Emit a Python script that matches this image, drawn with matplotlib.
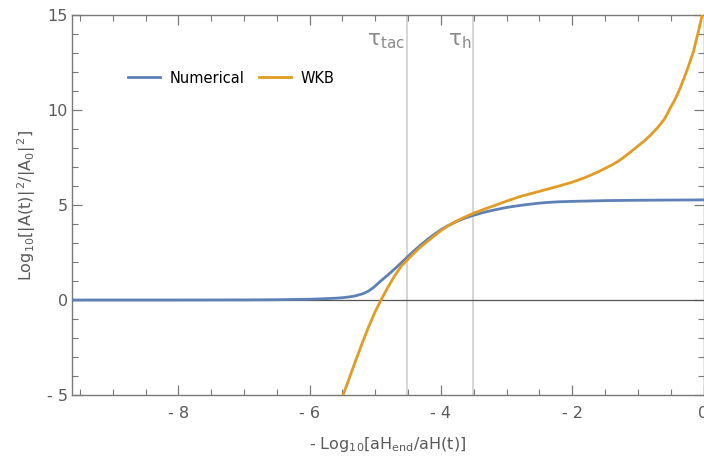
import matplotlib
matplotlib.use("Agg")
import matplotlib.pyplot as plt
from matplotlib.ticker import MultipleLocator, FuncFormatter

# ---- data ----
num_x = [-9.62, -8.0, -7.0, -6.5, -6.0, -5.8, -5.6, -5.5, -5.4, -5.3, -5.2, -5.15,
         -5.1, -5.05, -5.0, -4.95, -4.9, -4.8, -4.7, -4.6, -4.5, -4.4, -4.3, -4.2,
         -4.1, -4.0, -3.9, -3.8, -3.7, -3.6, -3.5, -3.4, -3.3, -3.2, -3.1, -3.0,
         -2.85, -2.7, -2.55, -2.4, -2.2, -2.0, -1.5, -1.0, -0.5, 0.0]
num_y = [0.0, 0.0, 0.005, 0.015, 0.04, 0.065, 0.095, 0.12, 0.16, 0.22, 0.32, 0.39,
         0.48, 0.6, 0.74, 0.9, 1.05, 1.34, 1.65, 1.97, 2.3, 2.62, 2.92, 3.2,
         3.46, 3.7, 3.9, 4.07, 4.22, 4.35, 4.46, 4.56, 4.65, 4.73, 4.8, 4.87,
         4.95, 5.02, 5.08, 5.13, 5.17, 5.19, 5.23, 5.25, 5.26, 5.27]

wkb_x = [-5.55, -5.5, -5.4, -5.3, -5.2, -5.1, -5.0, -4.9, -4.8, -4.7, -4.6, -4.5,
         -4.4, -4.3, -4.2, -4.1, -4.0, -3.9, -3.8, -3.7, -3.6, -3.5, -3.4, -3.3,
         -3.2, -3.1, -3.0, -2.8, -2.5, -2.2, -2.0, -1.8, -1.6, -1.4, -1.3, -1.2,
         -1.1, -1.0, -0.9, -0.8, -0.7, -0.6, -0.55, -0.5, -0.45, -0.4, -0.35,
         -0.3, -0.25, -0.2, -0.15, -0.12, -0.09, -0.06, -0.03, 0.0]
wkb_y = [-5.6, -5.1, -4.15, -3.2, -2.28, -1.4, -0.6, 0.08, 0.72, 1.3, 1.8, 2.15,
         2.5, 2.82, 3.1, 3.38, 3.65, 3.88, 4.08, 4.26, 4.42, 4.57, 4.7, 4.83,
         4.95, 5.08, 5.2, 5.44, 5.72, 6.0, 6.2, 6.45, 6.75, 7.1, 7.3, 7.55,
         7.82, 8.1, 8.38, 8.7, 9.07, 9.5, 9.8, 10.15, 10.45, 10.8, 11.2,
         11.65, 12.1, 12.6, 13.1, 13.55, 13.95, 14.4, 14.85, 15.3]

tau_positions = [-4.52, -3.51]
tau_labels = [r"$\tau_{\mathrm{tac}}$", r"$\tau_{\mathrm{h}}$"]
series_labels = ["Numerical", "WKB"]

# ---- style ----
plt.rcParams["font.family"] = ["DejaVu Sans"]
plt.rcParams["mathtext.fontset"] = "dejavusans"
plt.rcParams["mathtext.default"] = "regular"

BLUE = "#5E81B5"
ORANGE = "#E19C24"
FRAME = "#7a7a7a"
TXT = "#5a5a5a"

fig = plt.figure(figsize=(7.04, 4.58), dpi=100)
ax = fig.add_axes([72 / 704, 1 - 395 / 458, 631.5 / 704, 380 / 458])

ax.set_xlim(-9.62, 0)
ax.set_ylim(-5, 15)

for xv in tau_positions:
    ax.axvline(xv, color="#d0d0d0", lw=1.2, zorder=1)
ax.axhline(0, color="#555555", lw=0.9, zorder=2)

ax.plot(num_x, num_y, color=BLUE, lw=2.0, label=series_labels[0], zorder=3,
        solid_joinstyle="round")
ax.plot(wkb_x, wkb_y, color=ORANGE, lw=2.0, label=series_labels[1], zorder=4,
        solid_joinstyle="round")

for xv, lab in zip(tau_positions, tau_labels):
    ax.text(xv - 0.03, 13.65, lab, ha="right", va="center", color="#8a8a8a",
            fontsize=15.5)

for s in ax.spines.values():
    s.set_color(FRAME)
    s.set_linewidth(1.0)

ax.xaxis.set_major_locator(MultipleLocator(2))
ax.xaxis.set_minor_locator(MultipleLocator(0.5))
ax.yaxis.set_major_locator(MultipleLocator(5))
ax.yaxis.set_minor_locator(MultipleLocator(1))

def fmt(v, pos):
    v = int(round(v))
    return f"- {abs(v)}" if v < 0 else f"{v}"

ax.xaxis.set_major_formatter(FuncFormatter(fmt))
ax.yaxis.set_major_formatter(FuncFormatter(fmt))

ax.tick_params(which="both", direction="in", top=True, right=True,
               color=FRAME, labelcolor=TXT, labelsize=11.5)
ax.tick_params(which="major", length=7, width=0.9, pad=8)
ax.tick_params(which="minor", length=4, width=0.8)
ax.tick_params(axis="y", which="major", pad=3)

ax.set_xlabel(r"- Log$_{10}$[aH$_{\mathrm{end}}$/aH(t)]", color=TXT,
              fontsize=11.5, labelpad=10)
ax.set_ylabel(r"Log$_{10}$[|A(t)|$^{\,2}$/|A$_{0}$|$^{\,2}$]", color=TXT,
              fontsize=11.5, labelpad=6)

leg = ax.legend(loc="center left", bbox_to_anchor=(0.088, 0.834), ncol=2,
                frameon=False, fontsize=10.5, handlelength=2.25,
                handletextpad=0.65, columnspacing=0.95, borderaxespad=0,
                borderpad=0)

fig.savefig("out.png", dpi=100)
